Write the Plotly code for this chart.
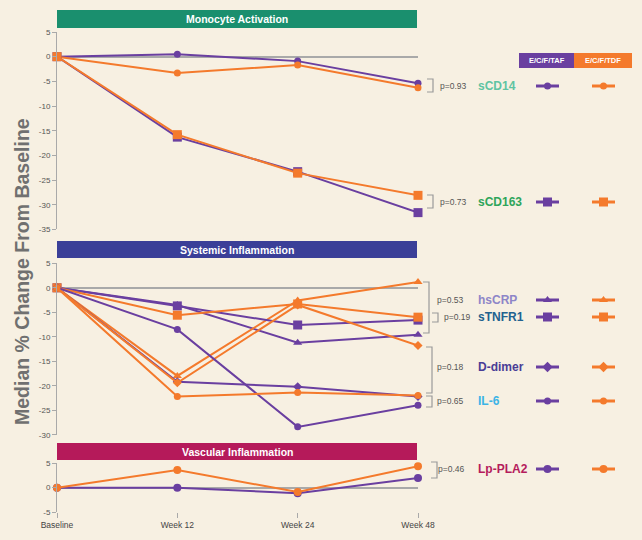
import plotly.graph_objects as go

# ---------------- data ----------------
categories = ["Baseline", "Week 12", "Week 24", "Week 48"]

sCD14_taf = [0, 0.5, -0.9, -5.4]
sCD14_tdf = [0, -3.3, -1.7, -6.3]
sCD163_taf = [0, -16.3, -23.3, -31.6]
sCD163_tdf = [0, -15.8, -23.6, -28.1]

hsCRP_taf = [0, -3.5, -11.2, -9.6]
hsCRP_tdf = [0, -18.0, -2.6, 1.2]
sTNFR1_taf = [0, -3.7, -7.6, -6.6]
sTNFR1_tdf = [0, -5.6, -3.3, -6.0]
ddimer_taf = [0, -19.2, -20.2, -22.2]
ddimer_tdf = [0, -19.4, -3.5, -11.8]
il6_taf = [0, -8.5, -28.4, -24.0]
il6_tdf = [0, -22.2, -21.4, -22.0]

lppla2_taf = [0, 0.0, -1.15, 2.0]
lppla2_tdf = [0, 3.6, -0.9, 4.4]

group_names = ["E/C/F/TAF", "E/C/F/TDF"]
panel_titles = ["Monocyte Activation", "Systemic Inflammation", "Vascular Inflammation"]
p_values = ["p=0.93", "p=0.73", "p=0.53", "p=0.19", "p=0.18", "p=0.65", "p=0.46"]

ticks_top = [5, 0, -5, -10, -15, -20, -25, -30, -35]
ticks_mid = [5, 0, -5, -10, -15, -20, -25, -30]
ticks_bot = [5, 0, -5]

# ---------------- styles ----------------
W, H = 642, 540
BG = "#f7f0e2"
PURPLE = "#6a3fa0"
ORANGE = "#f47a2c"
GRAY = "#a9a9a9"
FONT = "Arial, Liberation Sans, sans-serif"

fig = go.Figure()

def add_series(y, color, symbol, size, yaxis, name):
    fig.add_trace(go.Scatter(
        x=categories, y=y, mode="lines+markers", name=name,
        xaxis="x", yaxis=yaxis, cliponaxis=False, showlegend=False,
        line=dict(color=color, width=2),
        marker=dict(symbol=symbol, size=size, color=color),
        hoverinfo="x+y+name"))

# panel 1
add_series(sCD14_taf, PURPLE, "circle", 7, "y", "sCD14 TAF")
add_series(sCD14_tdf, ORANGE, "circle", 7, "y", "sCD14 TDF")
add_series(sCD163_taf, PURPLE, "square", 9, "y", "sCD163 TAF")
add_series(sCD163_tdf, ORANGE, "square", 9, "y", "sCD163 TDF")
# panel 2
add_series(hsCRP_taf, PURPLE, "triangle-up", 8, "y2", "hsCRP TAF")
add_series(hsCRP_tdf, ORANGE, "triangle-up", 8, "y2", "hsCRP TDF")
add_series(sTNFR1_taf, PURPLE, "square", 9, "y2", "sTNFR1 TAF")
add_series(sTNFR1_tdf, ORANGE, "square", 9, "y2", "sTNFR1 TDF")
add_series(ddimer_taf, PURPLE, "diamond", 7, "y2", "D-dimer TAF")
add_series(ddimer_tdf, ORANGE, "diamond", 7, "y2", "D-dimer TDF")
add_series(il6_taf, PURPLE, "circle", 7, "y2", "IL-6 TAF")
add_series(il6_tdf, ORANGE, "circle", 7, "y2", "IL-6 TDF")
# panel 3
add_series(lppla2_taf, PURPLE, "circle", 8, "y3", "Lp-PLA2 TAF")
add_series(lppla2_tdf, ORANGE, "circle", 8, "y3", "Lp-PLA2 TDF")

# ---------------- legend rows (pixel overlay axis) ----------------
rows = [
    ("sCD14", "#5fc4a2", "circle", 7, 86, 438, p_values[0], (427, 79, 92)),
    ("sCD163", "#2ea55a", "square", 9, 202, 438, p_values[1], (427, 195, 208)),
    ("hsCRP", "#8e86c8", "triangle-up", 8, 300, 435, p_values[2], (423, 282, 333)),
    ("sTNFR1", "#22628f", "square", 9, 317, 442, p_values[3], (432, 313, 322)),
    ("D-dimer", "#4a3d96", "diamond", 8, 367, 435, p_values[4], (426, 347, 393)),
    ("IL-6", "#3cb4e6", "circle", 7, 401, 435, p_values[5], (426, 396, 407)),
    ("Lp-PLA2", "#b51c5c", "circle", 8, 469, 436, p_values[6], (431, 462, 478)),
]

annotations = []
shapes = []

for label, lcolor, sym, msize, ry, px, ptxt, br in rows:
    for x0, col in ((536, PURPLE), (592, ORANGE)):
        shapes.append(dict(type="line", xref="x4", yref="y4", x0=x0, x1=x0 + 23, y0=ry, y1=ry,
                           line=dict(color=col, width=3), layer="above"))
        fig.add_trace(go.Scatter(
            x=[x0 + 11.5], y=[ry], mode="markers",
            xaxis="x4", yaxis="y4", showlegend=False, hoverinfo="skip", cliponaxis=False,
            marker=dict(symbol=sym, size=msize, color=col)))
    annotations.append(dict(x=476, y=ry, xref="x4", yref="y4", text="<b>%s</b>" % label,
                            showarrow=False, xanchor="left", yanchor="middle",
                            font=dict(family=FONT, size=12, color=lcolor)))
    annotations.append(dict(x=px, y=ry, xref="x4", yref="y4", text=ptxt,
                            showarrow=False, xanchor="left", yanchor="middle",
                            font=dict(family=FONT, size=8.5, color="#555555")))
    bx, by0, by1 = br
    shapes.append(dict(type="path", xref="x4", yref="y4",
                       path="M %g %g L %g %g L %g %g L %g %g" % (bx, by0, bx + 6, by0, bx + 6, by1, bx, by1),
                       line=dict(color="#9a9a9a", width=1.2)))

# panel title bars
bars = [(10, 28, "#1a8f6e"), (241, 258, "#3b3f98"), (443, 460, "#b51a5a")]
for (y0, y1, col), title in zip(bars, panel_titles):
    shapes.append(dict(type="rect", xref="x4", yref="y4", x0=57, x1=417, y0=y0, y1=y1,
                       fillcolor=col, line=dict(width=0), layer="above"))
    annotations.append(dict(x=237, y=(y0 + y1) / 2, xref="x4", yref="y4",
                            text="<b>%s</b>" % title, showarrow=False,
                            font=dict(family=FONT, size=10.5, color="white")))

# legend header boxes
for (x0, x1, col), name in zip([(519, 574, PURPLE), (574, 632, ORANGE)], group_names):
    shapes.append(dict(type="rect", xref="x4", yref="y4", x0=x0, x1=x1, y0=53, y1=68,
                       fillcolor=col, line=dict(width=0), layer="above"))
    annotations.append(dict(x=(x0 + x1) / 2, y=60.5, xref="x4", yref="y4",
                            text="<b>%s</b>" % name, showarrow=False,
                            font=dict(family=FONT, size=7.5, color="white")))

# y-axis title
annotations.append(dict(x=22, y=272, xref="x4", yref="y4", text="<b>Median % Change From Baseline</b>",
                        textangle=-90, showarrow=False,
                        font=dict(family=FONT, size=19.5, color="#707070")))

yax_common = dict(showgrid=False, zeroline=True, zerolinecolor=GRAY, zerolinewidth=1.5,
                  showline=True, linecolor=GRAY, linewidth=1, ticks="outside", ticklen=4,
                  tickcolor=GRAY, tickfont=dict(family=FONT, size=8, color="#555555"),
                  anchor="x", fixedrange=True, automargin=False)

def yticks(vals):
    return dict(tickmode="array", tickvals=vals, ticktext=[str(v) for v in vals])

fig.update_layout(
    width=W, height=H, autosize=False, paper_bgcolor=BG, plot_bgcolor="rgba(0,0,0,0)",
    margin=dict(l=0, r=0, t=0, b=0, pad=0), showlegend=False,
    xaxis=dict(domain=[57 / W, 418 / W], range=[0, 3], type="category",
               categoryorder="array", categoryarray=categories, anchor="y3", automargin=False,
               showgrid=False, zeroline=False, showline=False, ticks="outside",
               ticklen=5, tickcolor=GRAY, tickfont=dict(family=FONT, size=8.5, color="#444444")),
    yaxis=dict(domain=[1 - 229.4 / H, 1 - 32 / H], range=[-35, 5], **yticks(ticks_top), **yax_common),
    yaxis2=dict(domain=[1 - 434.7 / H, 1 - 263.3 / H], range=[-30, 5], **yticks(ticks_mid), **yax_common),
    yaxis3=dict(domain=[1 - 512 / H, 1 - 463.3 / H], range=[-5, 5], **yticks(ticks_bot), **yax_common),
    xaxis4=dict(domain=[0, 1], range=[0, W], visible=False, anchor="y4", automargin=False, fixedrange=True),
    yaxis4=dict(domain=[0, 1], range=[H, 0], visible=False, anchor="x4", automargin=False, fixedrange=True),
    shapes=shapes, annotations=annotations,
)

fig.write_html("out.html", config={"displayModeBar": False},
               post_script="document.body.style.margin='0';document.body.style.padding='0';")
